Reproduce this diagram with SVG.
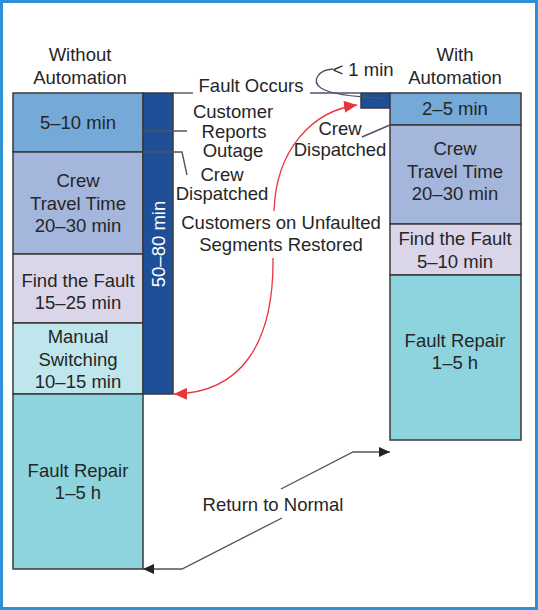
<svg xmlns="http://www.w3.org/2000/svg" width="538" height="610" viewBox="0 0 538 610">
<style>
text{font-family:"Liberation Sans",Arial,sans-serif;font-size:18.5px;fill:#262626;text-anchor:middle}
.box{stroke:#3a3a3a;stroke-width:1.5}
.lead{fill:none;stroke:#4c5466;stroke-width:1.4}
.red{fill:none;stroke:#e8353b;stroke-width:1.3}
.c1{fill:#74a9d8}.c2{fill:#a4b6dc}.c3{fill:#dad5e9}.c4{fill:#bfe6ec}.c5{fill:#8dd4de}.dk{fill:#1e4f97}
</style>
<defs>
<marker id="ah" markerUnits="userSpaceOnUse" markerWidth="11" markerHeight="10" refX="11" refY="5" orient="auto"><path d="M0,0 L11,5 L0,10 z" fill="#222"/></marker>
<marker id="ahr" markerUnits="userSpaceOnUse" markerWidth="13" markerHeight="12" refX="13" refY="6" orient="auto"><path d="M0,0 L13,6 L0,12 z" fill="#e8353b"/></marker>
</defs>
<rect x="1.5" y="1.5" width="535" height="607" fill="#fff" stroke="#2d8fd5" stroke-width="3"/>
<g id="headers">
<text x="80" y="61">Without</text><text x="80" y="84">Automation</text>
<text x="455" y="61">With</text><text x="455" y="84">Automation</text>
</g>
<g id="without">
<g id="w-report"><rect class="box c1" x="13" y="93" width="130" height="59"/><text x="78" y="129">5–10 min</text></g>
<g id="w-travel"><rect class="box c2" x="13" y="152" width="130" height="102"/><text x="78" y="187">Crew</text><text x="78" y="210">Travel Time</text><text x="78" y="232">20–30 min</text></g>
<g id="w-find"><rect class="box c3" x="13" y="254" width="130" height="69"/><text x="78" y="287">Find the Fault</text><text x="78" y="309">15–25 min</text></g>
<g id="w-switch"><rect class="box c4" x="13" y="323" width="130" height="71"/><text x="78" y="343">Manual</text><text x="78" y="366">Switching</text><text x="78" y="388">10–15 min</text></g>
<g id="w-repair"><rect class="box c5" x="13" y="394" width="130" height="175"/><text x="78" y="477">Fault Repair</text><text x="78" y="499">1–5 h</text></g>
<g id="w-total"><rect class="box dk" x="143" y="93" width="30" height="301"/><text transform="translate(165,244) rotate(-90)" style="fill:#fff">50–80 min</text></g>
</g>
<g id="with">
<g id="a-small"><rect class="box dk" x="361" y="93" width="29" height="15"/></g>
<g id="a-detect"><rect class="box c1" x="390" y="93" width="131" height="32"/><text x="455" y="115">2–5 min</text></g>
<g id="a-travel"><rect class="box c2" x="390" y="125" width="131" height="99"/><text x="455" y="155">Crew</text><text x="455" y="178">Travel Time</text><text x="455" y="200">20–30 min</text></g>
<g id="a-find"><rect class="box c3" x="390" y="224" width="131" height="51"/><text x="455" y="245">Find the Fault</text><text x="455" y="268">5–10 min</text></g>
<g id="a-repair"><rect class="box c5" x="390" y="275" width="131" height="165"/><text x="455" y="347">Fault Repair</text><text x="455" y="369">1–5 h</text></g>
</g>
<g id="labels">
<text x="251" y="92">Fault Occurs</text>
<text x="233" y="118">Customer</text><text x="234" y="138">Reports</text><text x="233" y="157">Outage</text>
<text x="222" y="181">Crew</text><text x="222" y="200">Dispatched</text>
<text x="340" y="135">Crew</text><text x="340" y="156">Dispatched</text>
<text x="363" y="76">&lt; 1 min</text>
<text x="281" y="229">Customers on Unfaulted</text><text x="281" y="251">Segments Restored</text>
<text x="273" y="511">Return to Normal</text>
</g>
<g id="connectors">
<path class="lead" d="M173,93 H193"/>
<path class="lead" d="M310,93 H361"/>
<path class="lead" d="M143,131 H187"/>
<path class="lead" d="M143,152 H182 L187,175"/>
<path class="lead" d="M362,137 L390,125"/>
<path class="lead" d="M333,69 C318,70 311,81 321,88 C332,95 356,97 382,98"/>
<path class="lead" d="M282,518 L182,569 H143" marker-end="url(#ah)"/>
<path class="lead" d="M281,489 L353,452 H390" marker-end="url(#ah)"/>
<path class="red" d="M274,211 C276,150 312,111 357,105" marker-end="url(#ahr)"/>
<path class="red" d="M273,258 C274,345 240,393 174,394" marker-end="url(#ahr)"/>
</g>
</svg>
